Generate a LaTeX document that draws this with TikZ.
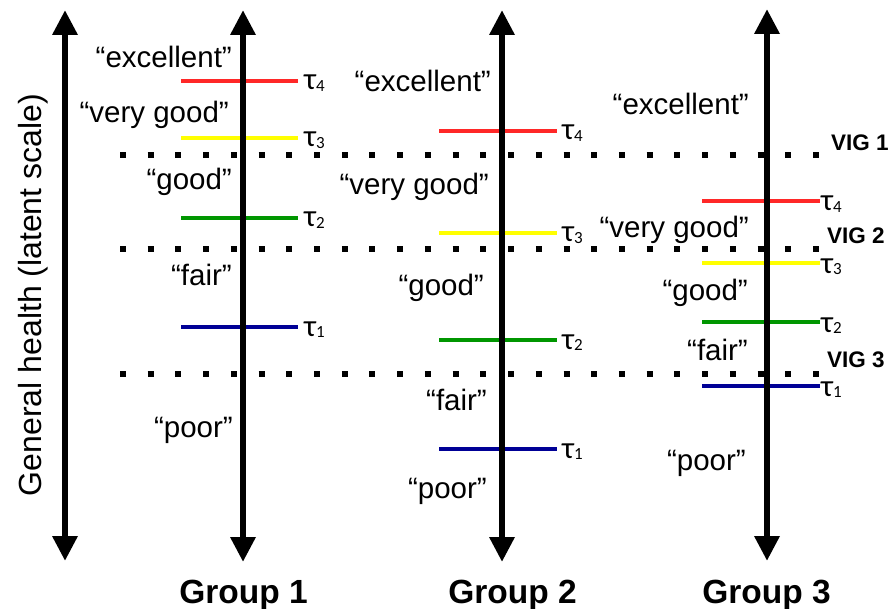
\documentclass[tikz,border=0pt]{standalone}
\usepackage{fontspec}
\setmainfont{Liberation Sans}
\newfontfamily\taufont{Carlito}
\usetikzlibrary{arrows.meta}
\definecolor{thrred}{RGB}{255,40,40}
\definecolor{thryellow}{RGB}{255,255,0}
\definecolor{thrgreen}{RGB}{0,150,0}
\definecolor{thrblue}{RGB}{0,0,150}
\newcommand{\tauwith}[1]{τ\raisebox{-1.5pt}{\fontsize{17}{17}\selectfont #1}}
\begin{document}
\begin{tikzpicture}[x=1pt,y=-1pt,
  axisarrow/.style={line width=6.5pt,{Triangle[length=25pt,width=24pt]}-{Triangle[length=25pt,width=24pt]}},
  thr/.style={line width=4pt},
  vigline/.style={line width=6pt,dash pattern=on 6pt off 21.72pt},
  lbl/.style={font=\fontsize{29.5}{29.5}\selectfont,anchor=base east,inner sep=0pt},
  taulbl/.style={font=\taufont\fontsize{31}{31}\selectfont,anchor=base west,inner sep=0pt},
  viglbl/.style={font=\bfseries\fontsize{22.5}{22.5}\selectfont,anchor=base west,inner sep=0pt},
  grp/.style={font=\bfseries\fontsize{33.5}{33.5}\selectfont,anchor=base,inner sep=0pt},
  axislbl/.style={font=\fontsize{32}{32}\selectfont,anchor=base,rotate=90,inner sep=0pt}]
\useasboundingbox (0,0) rectangle (893,609);

% threshold lines (under the axes)
% Group 1
\coordinate (g1r1) at (181,81);  \coordinate (g1r2) at (298,81);
\coordinate (g1y1) at (181,138); \coordinate (g1y2) at (298,138);
\coordinate (g1g1) at (181,218); \coordinate (g1g2) at (298,218);
\coordinate (g1b1) at (181,327); \coordinate (g1b2) at (298,327);
\draw[thr,thrred] (g1r1) -- (g1r2);
\draw[thr,thryellow] (g1y1) -- (g1y2);
\draw[thr,thrgreen] (g1g1) -- (g1g2);
\draw[thr,thrblue] (g1b1) -- (g1b2);
% Group 2
\coordinate (g2r1) at (439,131); \coordinate (g2r2) at (557,131);
\coordinate (g2y1) at (439,233); \coordinate (g2y2) at (557,233);
\coordinate (g2g1) at (439,340); \coordinate (g2g2) at (557,340);
\coordinate (g2b1) at (439,449); \coordinate (g2b2) at (557,449);
\draw[thr,thrred] (g2r1) -- (g2r2);
\draw[thr,thryellow] (g2y1) -- (g2y2);
\draw[thr,thrgreen] (g2g1) -- (g2g2);
\draw[thr,thrblue] (g2b1) -- (g2b2);
% Group 3
\coordinate (g3r1) at (702,201); \coordinate (g3r2) at (820,201);
\coordinate (g3y1) at (702,263); \coordinate (g3y2) at (820,263);
\coordinate (g3g1) at (702,322); \coordinate (g3g2) at (820,322);
\coordinate (g3b1) at (702,386); \coordinate (g3b2) at (820,386);
\draw[thr,thrred] (g3r1) -- (g3r2);
\draw[thr,thryellow] (g3y1) -- (g3y2);
\draw[thr,thrgreen] (g3g1) -- (g3g2);
\draw[thr,thrblue] (g3b1) -- (g3b2);

% dotted VIG lines
\coordinate (v1a) at (120,155); \coordinate (v1b) at (820,155);
\coordinate (v2a) at (120,249); \coordinate (v2b) at (820,249);
\coordinate (v3a) at (120,374); \coordinate (v3b) at (820,374);
\draw[vigline] (v1a) -- (v1b);
\draw[vigline] (v2a) -- (v2b);
\draw[vigline] (v3a) -- (v3b);

% axes
\coordinate (a0t) at (65,10);  \coordinate (a0b) at (65,561);
\coordinate (a1t) at (243,10); \coordinate (a1b) at (243,562);
\coordinate (a2t) at (502,10); \coordinate (a2b) at (502,562);
\coordinate (a3t) at (767,9);  \coordinate (a3b) at (767,561);
\draw[axisarrow] (a0b) -- (a0t);
\draw[axisarrow] (a1b) -- (a1t);
\draw[axisarrow] (a2b) -- (a2t);
\draw[axisarrow] (a3b) -- (a3t);

% axis label
\node[axislbl] (axl) at (41,295) {General health (latent scale)};

% category labels, group 1
\node[lbl] (l1e) at (232,68)  {“excellent”};
\node[lbl] (l1v) at (229,123) {“very good”};
\node[lbl] (l1g) at (232,190) {“good”};
\node[lbl] (l1f) at (232,286) {“fair”};
\node[lbl] (l1p) at (233,437) {“poor”};
% group 2
\node[lbl] (l2e) at (491,92)  {“excellent”};
\node[lbl] (l2v) at (489,195) {“very good”};
\node[lbl] (l2g) at (484,295) {“good”};
\node[lbl] (l2f) at (487,410) {“fair”};
\node[lbl] (l2p) at (487,498) {“poor”};
% group 3
\node[lbl] (l3e) at (749,115) {“excellent”};
\node[lbl] (l3v) at (749,238) {“very good”};
\node[lbl] (l3g) at (748,300) {“good”};
\node[lbl] (l3f) at (748,360) {“fair”};
\node[lbl] (l3p) at (746,470) {“poor”};

% tau labels
\node[taulbl] (t14) at (304,90)  {\tauwith{4}};
\node[taulbl] (t13) at (304,147) {\tauwith{3}};
\node[taulbl] (t12) at (304,227) {\tauwith{2}};
\node[taulbl] (t11) at (304,336) {\tauwith{1}};
\node[taulbl] (t24) at (562,140) {\tauwith{4}};
\node[taulbl] (t23) at (562,242) {\tauwith{3}};
\node[taulbl] (t22) at (562,349) {\tauwith{2}};
\node[taulbl] (t21) at (562,458) {\tauwith{1}};
\node[taulbl] (t34) at (821,211) {\tauwith{4}};
\node[taulbl] (t33) at (821,273) {\tauwith{3}};
\node[taulbl] (t32) at (821,332) {\tauwith{2}};
\node[taulbl] (t31) at (821,396) {\tauwith{1}};

% VIG labels
\node[viglbl] (vig1) at (831,151) {VIG 1};
\node[viglbl] (vig2) at (827,244) {VIG 2};
\node[viglbl] (vig3) at (827,367) {VIG 3};

% group labels
\node[grp] (grp1) at (243.5,603) {Group 1};
\node[grp] (grp2) at (512.5,603) {Group 2};
\node[grp] (grp3) at (766.5,603) {Group 3};
\end{tikzpicture}
\end{document}
